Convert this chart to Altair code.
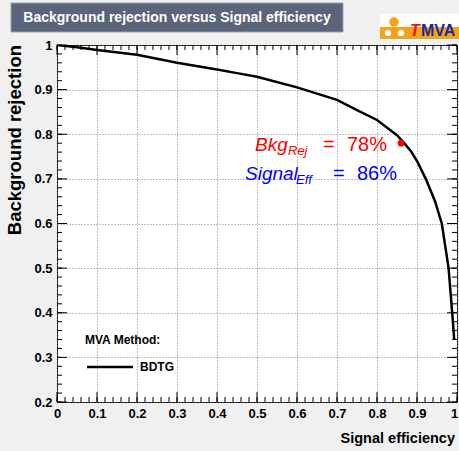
import altair as alt
import numpy as np
import pandas as pd

# ROC curve of the BDTG classifier
signal_eff = [0.0, 0.05, 0.1, 0.2, 0.3, 0.4, 0.45, 0.5, 0.6, 0.7, 0.75, 0.8, 0.85,
              0.868, 0.885, 0.9, 0.922, 0.945, 0.962, 0.979, 0.988, 0.993]
bkg_rej = [1.0, 0.995, 0.989, 0.978, 0.960, 0.945, 0.937, 0.929, 0.905, 0.877, 0.854,
           0.832, 0.798, 0.780, 0.762, 0.740, 0.700, 0.650, 0.600, 0.500, 0.400, 0.340]

# working point quoted in the annotation
wp_eff = 0.86
wp_rej = 0.78

# axis ticks
x_major = [round(v, 2) for v in np.arange(0, 1.0001, 0.1)]
x_minor = [round(v, 2) for v in np.arange(0, 1.0001, 0.02)]
y_major = [round(v, 2) for v in np.arange(0.2, 1.0001, 0.1)]
y_minor = [round(v, 2) for v in np.arange(0.2, 1.0001, 0.02)]

W, H = 400, 357
FONT = "Liberation Sans"

xs = alt.Scale(domain=[0, 1], nice=False, zero=False)
ys = alt.Scale(domain=[0.2, 1], nice=False, zero=False)
x_axis = alt.Axis(values=x_major, format=".1~f", title=None, labelFlush=False,
                  labelOverlap=False, grid=True,
                  labelOffset={"condition": {"test": "datum.value == 1", "value": -3},
                               "value": 0})
y_axis = alt.Axis(values=y_major, format=".1~f", title=None, labelOverlap=False, grid=True)


def X(field):
    return alt.X(field, scale=xs, axis=x_axis)


def Y(field):
    return alt.Y(field, scale=ys, axis=y_axis)


one = pd.DataFrame({"a": [0]})

curve_df = pd.DataFrame({"eff": signal_eff, "rej": bkg_rej})

curve = alt.Chart(curve_df).mark_line(
    color="black", strokeWidth=2.5, clip=True
).encode(x=X("eff:Q"), y=Y("rej:Q"), order=alt.Order("eff:Q"))


# ticks drawn inside the frame on all four sides
def xticks(vals, length):
    d = pd.DataFrame({"v": vals})
    bot = alt.Chart(d).mark_rule(color="black", strokeWidth=1).encode(
        x=X("v:Q"), y=alt.value(H), y2=alt.value(H - length))
    top = alt.Chart(d).mark_rule(color="black", strokeWidth=1).encode(
        x=X("v:Q"), y=alt.value(0), y2=alt.value(length))
    return [bot, top]


def yticks(vals, length):
    d = pd.DataFrame({"v": vals})
    left = alt.Chart(d).mark_rule(color="black", strokeWidth=1).encode(
        y=Y("v:Q"), x=alt.value(0), x2=alt.value(length))
    right = alt.Chart(d).mark_rule(color="black", strokeWidth=1).encode(
        y=Y("v:Q"), x=alt.value(W), x2=alt.value(W - length))
    return [left, right]


tick_layers = xticks(x_minor, 5) + xticks(x_major, 10) + yticks(y_minor, 5) + yticks(y_major, 10)

# working point marker
wp = alt.Chart(pd.DataFrame({"eff": [wp_eff], "rej": [wp_rej]})).mark_point(
    filled=True, color="red", size=45, opacity=1, shape="circle").encode(
    x=X("eff:Q"), y=Y("rej:Q"))


def txt(text, x, y, size, color="black", weight="normal", style="normal",
        align="left", baseline="alphabetic", angle=0, font=FONT):
    kw = dict(text=text, fontSize=size, color=color, fontWeight=weight, fontStyle=style,
              align=align, baseline=baseline, font=font)
    if angle:
        kw["angle"] = angle
    return alt.Chart(one).mark_text(**kw).encode(x=alt.value(x), y=alt.value(y))


annot = [
    txt("Bkg", 198, 106, 19, color="#ff0000", style="italic"),
    txt("Rej", 231, 110, 13, color="#ff0000", style="italic"),
    txt("=", 266, 106, 20, color="#ff0000"),
    txt("78%", 290, 106, 20, color="#ff0000"),
    txt("Signal", 188, 135, 19, color="#0000ff", style="italic"),
    txt("Eff", 239, 139, 13, color="#0000ff", style="italic"),
    txt("=", 276, 135, 20, color="#0000ff"),
    txt("86%", 300, 135, 20, color="#0000ff"),
]

# legend
legend = [
    txt("MVA Method:", 28, 295, 12, weight="bold", baseline="middle"),
    alt.Chart(one).mark_rule(color="black", strokeWidth=2.5).encode(
        x=alt.value(30), x2=alt.value(76), y=alt.value(322)),
    txt("BDTG", 83, 322, 12, weight="bold", baseline="middle"),
]

# axis titles
titles = [
    txt("Signal efficiency", W - 2, 398, 14.5, weight="bold", align="right"),
    txt("Background rejection", -42, 0, 18.5, weight="bold", align="right",
        baseline="middle", angle=270),
]


# header box
def rect(x1, x2, y1, y2, fill, stroke=None):
    kw = dict(fill=fill)
    if stroke:
        kw.update(stroke=stroke, strokeWidth=1)
    return alt.Chart(one).mark_rect(**kw).encode(
        x=alt.value(x1), x2=alt.value(x2), y=alt.value(y1), y2=alt.value(y2))


header = [
    rect(-46, 286, -42, -13, "#5a6579", stroke="#9aa3b2"),
    txt("Background rejection versus Signal efficiency", 120, -27, 14, color="white",
        weight="bold", align="center", baseline="middle"),
]


# TMVA logo
def dot(x, y, size, fill, stroke=None):
    kw = dict(filled=True, fill=fill, opacity=1, shape="circle", size=size)
    if stroke:
        kw.update(stroke=stroke, strokeWidth=1.5)
    return alt.Chart(one).mark_point(**kw).encode(x=alt.value(x), y=alt.value(y))


logo = [
    rect(323, 402, -31, -5, "white"),
    rect(323, 402, -18, -6, "#f7a21b"),
    dot(337, -23, 90, "#f7a21b"),
    dot(331, -12, 60, "white", stroke="#f7a21b"),
    dot(344, -12, 60, "white", stroke="#f7a21b"),
    txt("T", 353, -9, 16, color="#e8141b", weight="bold", style="italic"),
    txt("MVA", 364, -9, 16, color="#1a2a9c", weight="bold"),
]

chart = alt.layer(
    curve, *tick_layers, wp, *annot, *legend, *titles, *header, *logo
).properties(
    width=W, height=H,
    autosize=alt.AutoSizeParams(type="none"),
    padding={"left": 57, "top": 45, "right": 2, "bottom": 49},
    background="#f0f0f0",
).configure_view(
    stroke="black", strokeWidth=1, fill="white"
).configure_axis(
    labelFont=FONT, labelFontWeight="bold", labelFontSize=13, labelColor="black",
    labelPadding=5, ticks=False, domain=False,
    gridColor="#7f7f7f", gridDash=[1, 2], gridWidth=1,
)

chart.save("out.html", embed_options={"renderer": "svg", "actions": False})
